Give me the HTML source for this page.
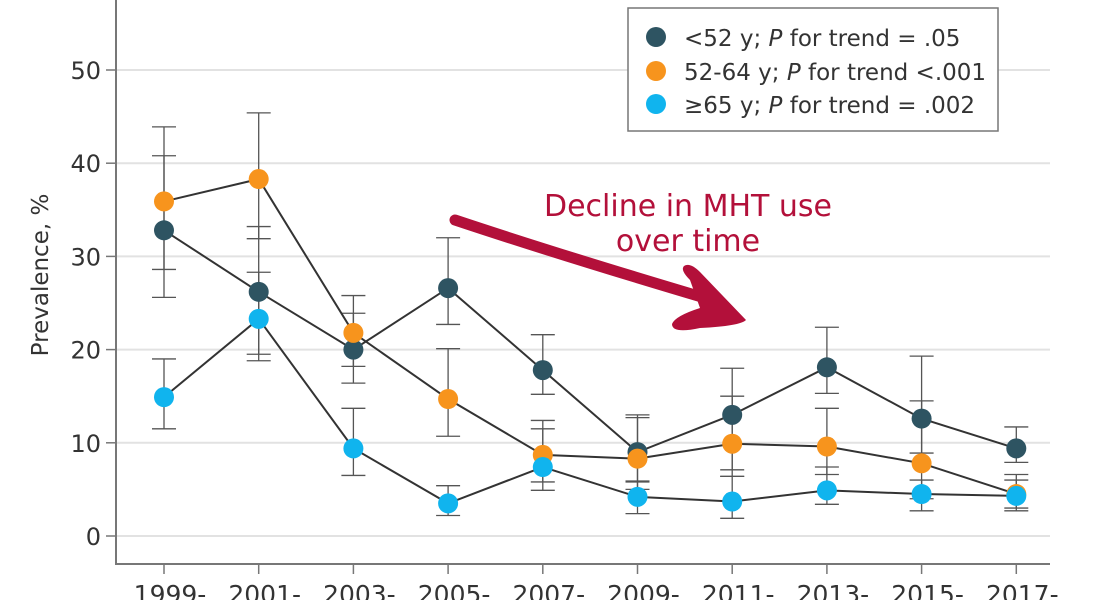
<!DOCTYPE html>
<html><head><meta charset="utf-8"><style>
body{margin:0;background:#fff;}
svg{display:block;font-family:"DejaVu Sans","Liberation Sans",sans-serif;}
</style></head><body>
<svg id="chart" width="1096" height="600" viewBox="0 0 1096 600">
<g id="grid"></g>
<g id="axes"></g>
<g id="series"></g>
<g>
<text x="688" y="216" font-size="30" fill="#b3103a" text-anchor="middle">Decline in MHT use</text>
<text x="688" y="251" font-size="30" fill="#b3103a" text-anchor="middle">over time</text>
<path d="M455,220 Q560,255 705,298" stroke="#b3103a" stroke-width="11" fill="none" stroke-linecap="round"/>
<path d="M684,266 Q690,262 700,272 L746,320 Q740,326 700,328 Q672,334 672,324 Q675,316 700,308 L690,280 Q680,270 684,266 Z" fill="#b3103a"/>
</g>
<g>
<rect x="628" y="8" width="370" height="123" fill="#fff" stroke="#777" stroke-width="1.5"/>
<circle cx="656" cy="37" r="10" fill="#2e5462"/>
<text x="684" y="46" font-size="23" fill="#333">&lt;52 y; <tspan font-style="italic">P</tspan> for trend = .05</text>
<circle cx="656" cy="71" r="10" fill="#f7941d"/>
<text x="684" y="80" font-size="23" fill="#333">52-64 y; <tspan font-style="italic">P</tspan> for trend &lt;.001</text>
<circle cx="656" cy="104" r="10" fill="#10b4ee"/>
<text x="684" y="113" font-size="23" fill="#333">≥65 y; <tspan font-style="italic">P</tspan> for trend = .002</text>
</g>
<text transform="translate(48,275) rotate(-90)" font-size="23" fill="#333" text-anchor="middle">Prevalence, %</text>
</svg>
<script>
const categories=["1999-","2001-","2003-","2005-","2007-","2009-","2011-","2013-","2015-","2017-"];
const yTicks=[0,10,20,30,40,50];
const under52=[32.8,26.2,20.0,26.6,17.8,9.0,13.0,18.1,12.6,9.4];
const under52Lo=[25.6,19.5,16.4,22.7,15.2,5.8,7.1,15.3,8.9,7.9];
const under52Hi=[40.8,33.2,23.9,32.0,21.6,13.0,18.0,22.4,19.3,11.7];
const mid=[35.9,38.3,21.8,14.7,8.7,8.3,9.9,9.6,7.8,4.5];
const midLo=[28.6,31.9,18.2,10.7,5.8,5.0,6.4,6.6,4.0,2.7];
const midHi=[43.9,45.4,25.8,20.1,12.4,12.7,15.0,13.7,14.5,6.6];
const old=[14.9,23.3,9.4,3.5,7.4,4.2,3.7,4.9,4.5,4.3];
const oldLo=[11.5,18.8,6.5,2.2,4.9,2.4,1.9,3.4,2.7,3.0];
const oldHi=[19.0,28.3,13.7,5.4,11.5,5.9,6.4,7.4,6.0,6.0];
const NS="http://www.w3.org/2000/svg";
const X=i=>164+i*94.7, Y=v=>536-v*9.32;
function mk(t,a,p){const e=document.createElementNS(NS,t);for(const k in a)e.setAttribute(k,a[k]);p.appendChild(e);return e;}
const grid=document.getElementById('grid'),axes=document.getElementById('axes'),ser=document.getElementById('series');
yTicks.forEach(v=>{
 const g=mk('line',{x1:116,x2:1050,y1:Y(v),y2:Y(v),stroke:'#e2e2e2','stroke-width':2},grid);
 
 
 const t=mk('line',{x1:106,x2:116,y1:Y(v),y2:Y(v),stroke:'#777','stroke-width':1.5},axes);
 
 
 const l=mk('text',{x:101,y:Y(v)+9,'font-size':24,fill:'#333','text-anchor':'end'},axes);l.textContent=v;
 
 
});
const ya=mk('line',{x1:116,x2:116,y1:0,y2:564,stroke:'#777','stroke-width':2},axes);


const xa=mk('line',{x1:115,x2:1050,y1:564,y2:564,stroke:'#777','stroke-width':2},axes);


categories.forEach((c,i)=>{
 const t=mk('line',{x1:X(i),x2:X(i),y1:564,y2:574,stroke:'#777','stroke-width':1.5},axes);
 
 
 const l=mk('text',{x:X(i)+6,y:603,'font-size':25,fill:'#333','text-anchor':'middle'},axes);l.textContent=c;
 
 
});
const S=[[under52,under52Lo,under52Hi,'#2e5462','under52'],[mid,midLo,midHi,'#f7941d','52-64'],[old,oldLo,oldHi,'#10b4ee','65plus']];
S.forEach(([v,lo,hi,col,nm])=>{
 v.forEach((d,i)=>{
  const e=mk('path',{d:`M${X(i)},${Y(lo[i])}V${Y(hi[i])}M${X(i)-12},${Y(lo[i])}h24M${X(i)-12},${Y(hi[i])}h24`,stroke:'#555','stroke-width':1.3,fill:'none'},ser);
  
  
 });
});
S.forEach(([v,lo,hi,col,nm])=>{
 const p=mk('polyline',{points:v.map((d,i)=>X(i)+','+Y(d)).join(' '),stroke:'#333','stroke-width':2,fill:'none'},ser);
 
 
});
S.forEach(([v,lo,hi,col,nm])=>{
 v.forEach((d,i)=>{
  const c=mk('circle',{cx:X(i),cy:Y(d),r:10,fill:col},ser);
  
  
 });
});
</script>
</body></html>
